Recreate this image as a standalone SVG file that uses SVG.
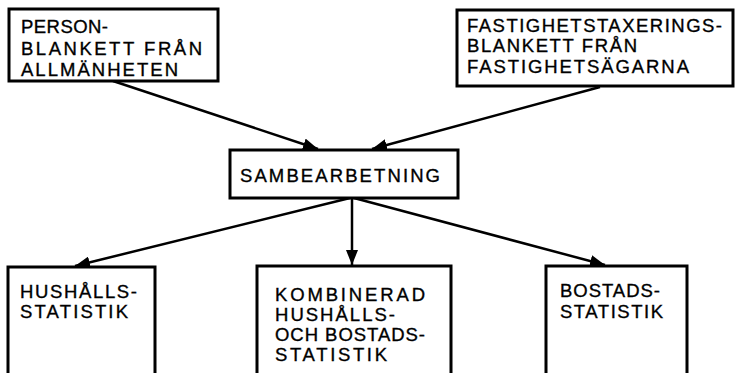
<svg xmlns="http://www.w3.org/2000/svg" width="737" height="373" viewBox="0 0 737 373">
<defs>
<style>
.box{fill:#fff;stroke:#000;stroke-width:3}
.open{fill:none;stroke:#000;stroke-width:3}
.t{font-family:"Liberation Sans",Arial,sans-serif;font-size:18.5px;fill:#000;stroke:#000;stroke-width:0.35}
.c{stroke:#000;stroke-width:2.5;fill:none;marker-end:url(#ah)}
</style>
<marker id="ah" markerUnits="userSpaceOnUse" markerWidth="16" markerHeight="12" refX="15" refY="6" orient="auto">
<path d="M0,0 L15,6 L0,12 Z" fill="#000"/>
</marker>
</defs>
<rect width="737" height="373" fill="#fff"/>
<g id="connectors">
<line class="c" x1="113" y1="81" x2="318" y2="149"/>
<line class="c" x1="600" y1="87" x2="372" y2="149"/>
<line class="c" x1="350" y1="198" x2="75" y2="266"/>
<line class="c" x1="352" y1="198" x2="352" y2="265"/>
<line class="c" x1="354" y1="198" x2="605" y2="265"/>
</g>
<g id="person">
<rect class="box" x="9" y="9" width="209" height="72"/>
<text class="t" x="21" y="33" textLength="87" lengthAdjust="spacing">PERSON-</text>
<text class="t" x="21" y="55" textLength="181" lengthAdjust="spacing">BLANKETT FRÅN</text>
<text class="t" x="21" y="76" textLength="157" lengthAdjust="spacing">ALLMÄNHETEN</text>
</g>
<g id="fastighet">
<rect class="box" x="457" y="10" width="276" height="76"/>
<text class="t" x="467" y="32" textLength="255" lengthAdjust="spacing">FASTIGHETSTAXERINGS-</text>
<text class="t" x="467" y="52" textLength="170" lengthAdjust="spacing">BLANKETT FRÅN</text>
<text class="t" x="467" y="73" textLength="222" lengthAdjust="spacing">FASTIGHETSÄGARNA</text>
</g>
<g id="sambearbetning">
<rect class="box" x="230" y="150" width="228" height="48"/>
<text class="t" x="240" y="182" textLength="200" lengthAdjust="spacing">SAMBEARBETNING</text>
</g>
<g id="hushall">
<path class="open" d="M8,375 V267 H155 V375"/>
<text class="t" x="20" y="298" textLength="117" lengthAdjust="spacing">HUSHÅLLS-</text>
<text class="t" x="20" y="318" textLength="108" lengthAdjust="spacing">STATISTIK</text>
</g>
<g id="kombinerad">
<path class="open" d="M257,375 V266 H451 V375"/>
<text class="t" x="275" y="301" textLength="150" lengthAdjust="spacing">KOMBINERAD</text>
<text class="t" x="275" y="321" textLength="120" lengthAdjust="spacing">HUSHÅLLS-</text>
<text class="t" x="275" y="341" textLength="150" lengthAdjust="spacing">OCH BOSTADS-</text>
<text class="t" x="275" y="361" textLength="112" lengthAdjust="spacing">STATISTIK</text>
</g>
<g id="bostad">
<path class="open" d="M546,375 V266 H687 V375"/>
<text class="t" x="560" y="297" textLength="100" lengthAdjust="spacing">BOSTADS-</text>
<text class="t" x="560" y="318" textLength="103" lengthAdjust="spacing">STATISTIK</text>
</g>
</svg>
